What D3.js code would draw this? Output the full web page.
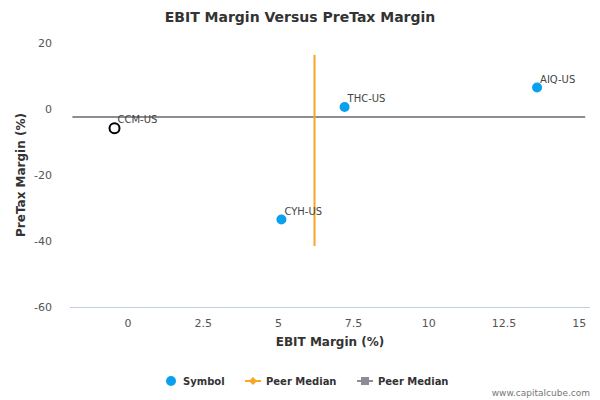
<!DOCTYPE html>
<html><head><meta charset="utf-8">
<script src="https://cdn.jsdelivr.net/npm/d3@7"></script>
<style>body{margin:0;background:#fff}text{font-family:"DejaVu Sans",sans-serif}</style>
</head><body><svg id="c" width="600" height="400"></svg>
<script>
const names = ["CCM-US", "THC-US", "AIQ-US", "CYH-US"];
const ebit = [-0.45, 7.2, 13.6, 5.1];
const pretax = [-5.8, 0.6, 6.5, -33.5];
const hollow = [true, false, false, false];
const medianX = 6.2, medianXRange = [16.4, -41.5];
const medianY = -2.4;
const xTicks = [0, 2.5, 5, 7.5, 10, 12.5, 15];
const yTicks = [20, 0, -20, -40, -60];

const svg = d3.select("#c");
const x = d3.scaleLinear().domain([-1.93, 15.36]).range([70, 590]);
const y = d3.scaleLinear().domain([20, -60]).range([43, 307]);

svg.append("text").attr("x", 300).attr("y", 22).attr("text-anchor", "middle")
  .attr("font-size", 14).attr("font-weight", "bold").attr("fill", "#333").text("EBIT Margin Versus PreTax Margin");

svg.append("line").attr("x1", 70).attr("x2", 590).attr("y1", 307.5).attr("y2", 307.5).attr("stroke", "#c0d0e0");
xTicks.forEach(t => svg.append("text").attr("x", x(t)).attr("y", 327).attr("text-anchor", "middle")
  .attr("font-size", 11).attr("fill", "#555").text(t));
yTicks.forEach(t => svg.append("text").attr("x", 52).attr("y", y(t) + 4).attr("text-anchor", "end")
  .attr("font-size", 11).attr("fill", "#555").text(t));

svg.append("text").attr("x", 330).attr("y", 346).attr("text-anchor", "middle").attr("font-size", 12)
  .attr("font-weight", "bold").attr("fill", "#333").text("EBIT Margin (%)");
svg.append("text").attr("transform", "translate(25,175) rotate(-90)").attr("text-anchor", "middle")
  .attr("font-size", 12).attr("font-weight", "bold").attr("fill", "#333").text("PreTax Margin (%)");

svg.append("line").attr("x1", x(-1.85)).attr("x2", x(15.2)).attr("y1", y(medianY)).attr("y2", y(medianY))
  .attr("stroke", "#8c8c94").attr("stroke-width", 2);
svg.append("line").attr("x1", x(medianX)).attr("x2", x(medianX)).attr("y1", y(medianXRange[0])).attr("y2", y(medianXRange[1]))
  .attr("stroke", "#f5a623").attr("stroke-width", 2);

names.forEach((n, i) => {
  svg.append("circle").attr("cx", x(ebit[i])).attr("cy", y(pretax[i])).attr("r", 5)
    .attr("fill", hollow[i] ? "#fff" : "#0aa0f0").attr("stroke", hollow[i] ? "#000" : "none").attr("stroke-width", 2);
  svg.append("text").attr("x", x(ebit[i]) + 3).attr("y", y(pretax[i]) - 5).attr("font-size", 10)
    .attr("fill", "#444").text(n);
});

const lg = svg.append("g").attr("font-size", 10).attr("font-weight", "bold").attr("fill", "#333");
lg.append("circle").attr("cx", 171).attr("cy", 381).attr("r", 5).attr("fill", "#0aa0f0");
lg.append("text").attr("x", 183).attr("y", 385).text("Symbol");
lg.append("line").attr("x1", 245).attr("x2", 261).attr("y1", 381).attr("y2", 381).attr("stroke", "#f5a623").attr("stroke-width", 2);
lg.append("path").attr("d", "M253,377L257,381L253,385L249,381Z").attr("fill", "#f5a623");
lg.append("text").attr("x", 266).attr("y", 385).text("Peer Median");
lg.append("line").attr("x1", 357).attr("x2", 373).attr("y1", 381).attr("y2", 381).attr("stroke", "#8c8c94").attr("stroke-width", 2);
lg.append("rect").attr("x", 361).attr("y", 377).attr("width", 8).attr("height", 8).attr("fill", "#8c8c94");
lg.append("text").attr("x", 378).attr("y", 385).text("Peer Median");

svg.append("text").attr("x", 590).attr("y", 396).attr("text-anchor", "end").attr("font-size", 9)
  .attr("fill", "#777").text("www.capitalcube.com");
</script></body></html>
